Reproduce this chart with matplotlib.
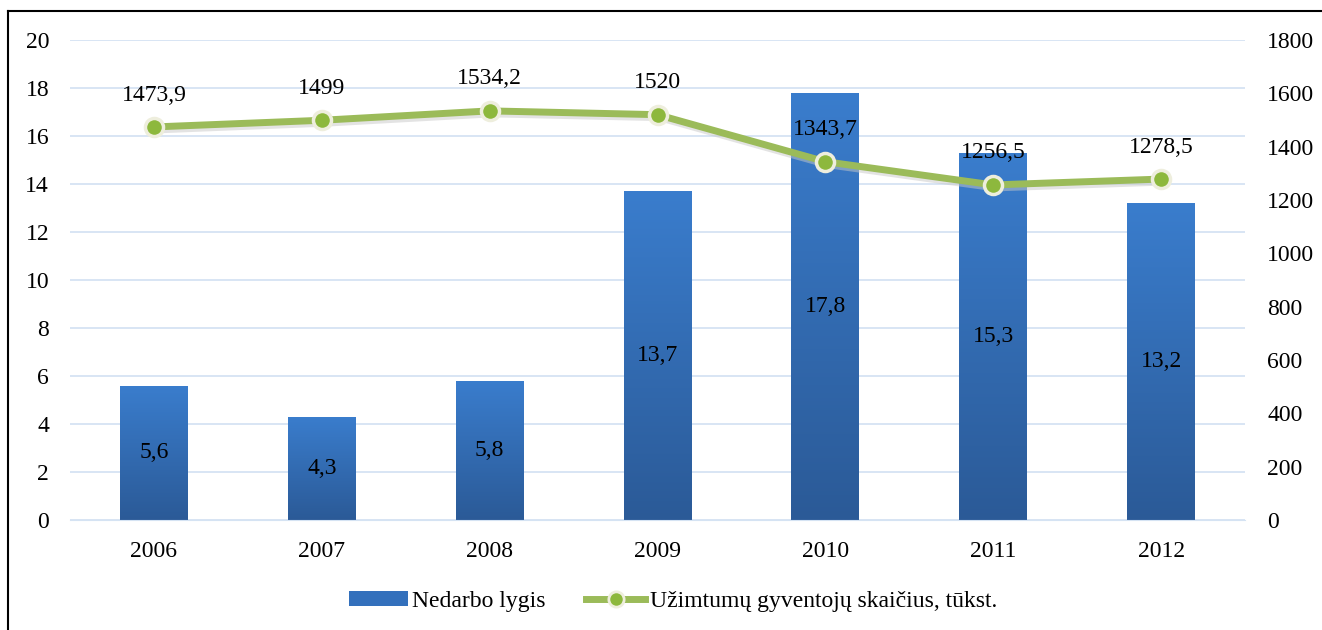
import matplotlib.pyplot as plt
import matplotlib.transforms as mtransforms
import numpy as np
from matplotlib.lines import Line2D
from matplotlib.patches import Patch
from matplotlib.colors import LinearSegmentedColormap

years = ['2006', '2007', '2008', '2009', '2010', '2011', '2012']
unemployment = [5.6, 4.3, 5.8, 13.7, 17.8, 15.3, 13.2]
employed = [1473.9, 1499, 1534.2, 1520, 1343.7, 1256.5, 1278.5]
unemp_labels = ['5,6', '4,3', '5,8', '13,7', '17,8', '15,3', '13,2']
empl_labels = ['1473,9', '1499', '1534,2', '1520', '1343,7', '1256,5', '1278,5']

plt.rcParams['font.family'] = ['Liberation Serif', 'DejaVu Serif']
fs = 17

fig = plt.figure(figsize=(13.22, 6.3), dpi=100)
ax = fig.add_axes([70/1322, 1-520/630, 1175/1322, 480/630])
ax2 = ax.twinx()

x = np.arange(len(years))
bars = ax.bar(x, unemployment, width=0.405, color='#3A7BCB', zorder=2)

# vertical gradient inside each bar
grad = np.linspace(0, 1, 256).reshape(-1, 1)
cmap = LinearSegmentedColormap.from_list('bl', ['#2B5A97', '#3A7DCD'])
for b in bars:
    x0, y0, w, h = b.get_x(), b.get_y(), b.get_width(), b.get_height()
    im = ax.imshow(grad, cmap=cmap, origin='lower', aspect='auto',
                   extent=[x0, x0 + w, y0, y0 + h], zorder=2.1)
    im.set_clip_path(b)

for xi, v, lab in zip(x, unemployment, unemp_labels):
    ax.text(xi, v / 2, lab, ha='center', va='center', fontsize=fs, color='black', zorder=3)

ax.set_xlim(-0.5, len(years) - 0.5)
ax.set_ylim(0, 20)
ax.set_yticks(np.arange(0, 21, 2))
ax.set_xticks(x)
ax.set_xticklabels(years)
ax.grid(axis='y', color='#D5E3F3', linewidth=1.3, zorder=0)
ax.set_axisbelow(True)
ax.tick_params(axis='both', length=0, labelsize=fs)
ax.tick_params(axis='x', pad=15)
ax.tick_params(axis='y', pad=15)
for s in ax.spines.values():
    s.set_visible(False)
ax.spines['bottom'].set_visible(True)
ax.spines['bottom'].set_color('#D5E3F3')

# line on secondary axis, with a soft shadow
shadow = ax2.transData + mtransforms.ScaledTranslation(2/100, -3/100, fig.dpi_scale_trans)
ax2.plot(x, employed, color='#C8C8C8', linewidth=5, alpha=0.5, zorder=2, transform=shadow)
ax2.plot(x, employed, color='#9BBB59', linewidth=5, marker='o', markersize=13,
         markerfacecolor='#8DB83D', markeredgecolor='#EEEEDD', markeredgewidth=2.5, zorder=3)
for xi, v, lab in zip(x, employed, empl_labels):
    ax2.annotate(lab, (xi, v), xytext=(0, 23), textcoords='offset points',
                 ha='center', va='center', fontsize=fs, color='black')
ax2.set_ylim(0, 1800)
ax2.set_yticks(np.arange(0, 1801, 200))
ax2.tick_params(axis='y', length=0, labelsize=fs, pad=16)
for s in ax2.spines.values():
    s.set_visible(False)

handles = [Patch(facecolor='#3370BC', edgecolor='none'),
           Line2D([0], [0], color='#9BBB59', linewidth=5, marker='o', markersize=11,
                  markerfacecolor='#8DB83D', markeredgecolor='#EEEEDD', markeredgewidth=2)]
fig.legend(handles, ['Nedarbo lygis', 'Užimtumų gyventojų skaičius, tūkst.'],
           loc='center', bbox_to_anchor=(0.509, 1 - 601/630), ncol=2, frameon=False,
           fontsize=fs, handlelength=2.5, handleheight=0.6, columnspacing=1.7, handletextpad=0.2)

# outer frame
fig.add_artist(Line2D([8/1322, 8/1322], [0, 1 - 11/630], color='black', linewidth=1.5))
fig.add_artist(Line2D([8/1322, 1], [1 - 11/630, 1 - 11/630], color='black', linewidth=1.5))

fig.savefig('out.png', dpi=100)
